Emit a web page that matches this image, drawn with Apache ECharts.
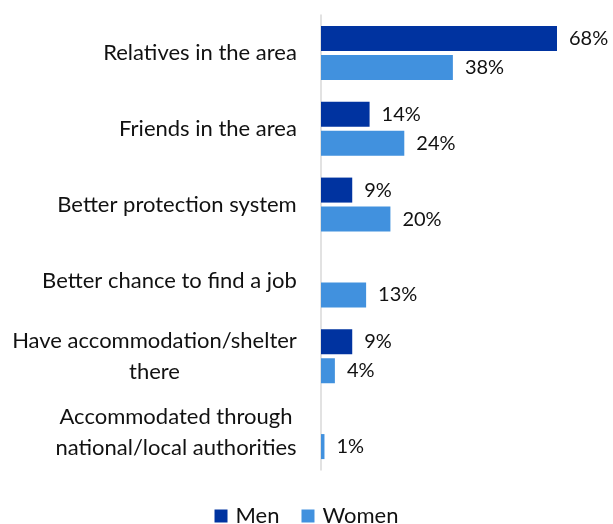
<!DOCTYPE html>
<html>
<head>
<meta charset="utf-8">
<script src="https://cdn.jsdelivr.net/npm/echarts@6/dist/echarts.min.js"></script>
<style>
  html, body { margin: 0; padding: 0; background: #fff; }
  #chart { width: 613px; height: 524px; }
</style>
</head>
<body>
<div id="chart"></div>
<script>
// Reasons for choosing the destination, by gender (%)
const categories = [
  'Relatives in the area',
  'Friends in the area',
  'Better protection system',
  'Better chance to find a job',
  'Have accommodation/shelter\nthere',
  'Accommodated through\nnational/local authorities'
];
const seriesNames = ['Men', 'Women'];
const menValues = [68, 14, 9, null, 9, null];
const womenValues = [38, 24, 20, 13, 4, 1];

const FONT = 'Lato, "Open Sans", sans-serif';
const TEXT = '#111';
const LABEL_SIZE = 22;

// Multi-line category labels: the block sits flush against the axis while
// each line is centred inside it. Measure the widest line of every label and
// give it its own rich style of that width.
const measureCtx = document.createElement('canvas').getContext('2d');
measureCtx.font = LABEL_SIZE + 'px ' + FONT;
const richStyles = {};
categories.forEach((cat, i) => {
  const w = Math.max(...cat.split('\n').map(s => measureCtx.measureText(s).width));
  richStyles['c' + i] = {
    width: Math.ceil(w),
    align: 'center',
    color: TEXT,
    fontSize: LABEL_SIZE,
    fontFamily: FONT,
    lineHeight: 31
  };
});

const chart = echarts.init(document.getElementById('chart'), null, { renderer: 'canvas' });

const valueLabel = {
  show: true,
  position: 'right',
  distance: 12,
  color: TEXT,
  fontFamily: FONT,
  fontSize: 20,
  formatter: p => (p.value == null ? '' : p.value + '%')
};

chart.setOption({
  animation: false,
  textStyle: { fontFamily: FONT },
  grid: { left: 321, right: 56, top: 15, bottom: 54, containLabel: false },
  legend: {
    data: seriesNames,
    top: 500,
    left: 'center',
    itemWidth: 13,
    itemHeight: 13,
    itemGap: 22,
    icon: 'rect',
    textStyle: { color: TEXT, fontSize: 22, fontFamily: FONT, padding: [0, 0, 0, 3] }
  },
  xAxis: {
    type: 'value',
    min: 0,
    max: 68,
    show: false
  },
  yAxis: {
    type: 'category',
    data: categories,
    inverse: true,
    axisLine: { show: true, lineStyle: { color: '#d9d9d9', width: 1.5 } },
    axisTick: { show: false },
    axisLabel: {
      color: TEXT,
      fontSize: LABEL_SIZE,
      fontFamily: FONT,
      margin: 24,
      align: 'right',
      lineHeight: 31,
      formatter: (value, index) =>
        value.split('\n').map(line => '{c' + index + '|' + line + '}').join('\n'),
      rich: richStyles
    }
  },
  series: [
    {
      name: seriesNames[0],
      type: 'bar',
      data: menValues,
      barWidth: 25,
      barGap: '16%',
      barCategoryGap: '29%',
      itemStyle: { color: '#0033A0' },
      label: valueLabel
    },
    {
      name: seriesNames[1],
      type: 'bar',
      data: womenValues,
      barWidth: 25,
      itemStyle: { color: '#4191DE' },
      label: valueLabel
    }
  ]
});
</script>
</body>
</html>
